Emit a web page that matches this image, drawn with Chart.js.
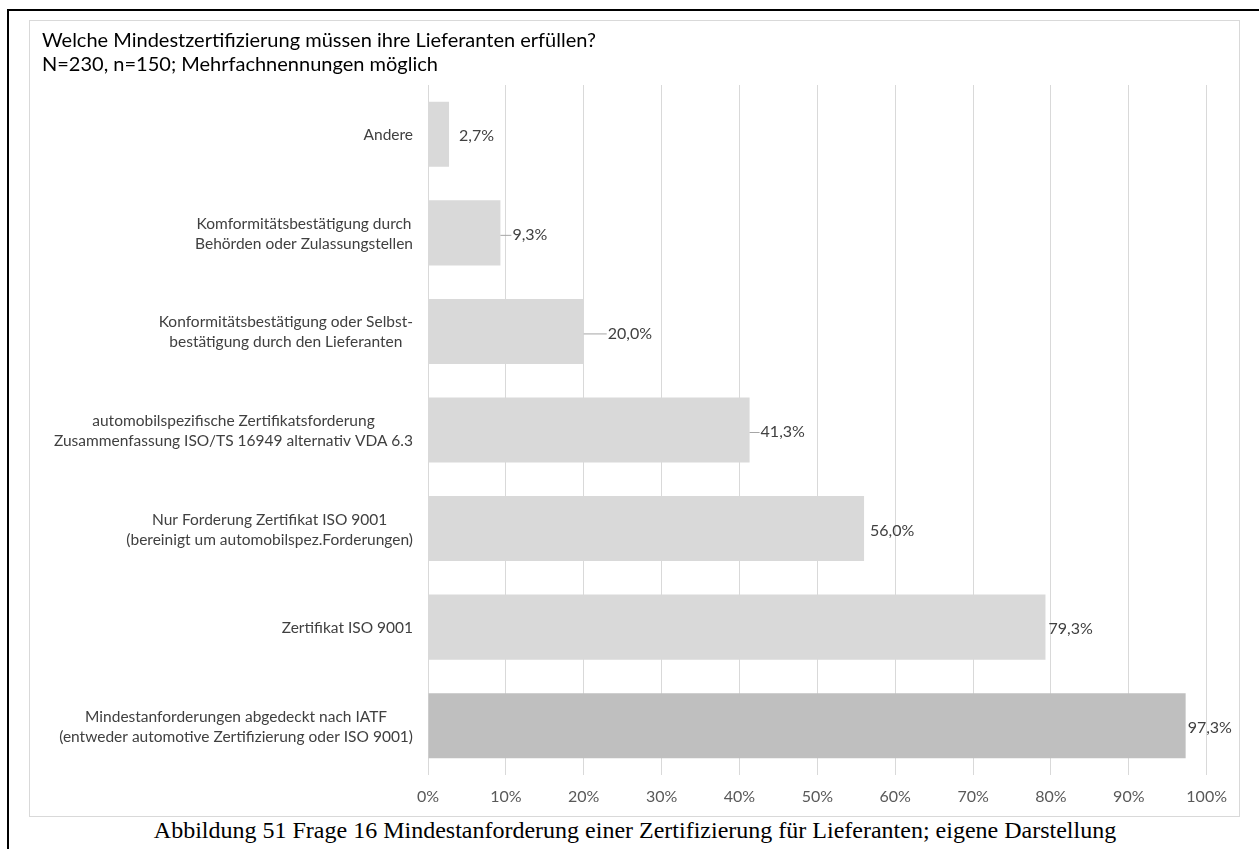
<!DOCTYPE html>
<html>
<head>
<meta charset="utf-8">
<script src="https://cdn.jsdelivr.net/npm/chart.js@4"></script>
<style>
    body { margin: 0; background: #fff; width: 1259px; height: 849px; overflow: hidden; position: relative; }
    #rahmen { position: absolute; left: 7px; top: 9px; width: 1300px; height: 900px; border-left: 2px solid #000; border-top: 2px solid #000; }
    #box { position: absolute; left: 29px; top: 20px; width: 1209px; height: 795px; border: 1px solid #d9d9d9; }
    #box canvas { display: block; }
    #caption { position: absolute; left: 0; width: 1270px; top: 818px; line-height: 24px; text-align: center; font-family: "Liberation Serif", "Times New Roman", serif; font-size: 24px; color: #000; }
</style>
</head>
<body>
<div id="rahmen"></div>
<div id="box"><canvas id="zertChart" width="1209" height="795"></canvas></div>
<div id="caption">Abbildung 51 Frage 16 Mindestanforderung einer Zertifizierung für Lieferanten; eigene Darstellung</div>
<script>
// Kategorien (jeweils Zeilen der Beschriftung)
const kategorien = [
    ["Andere"],
    ["Komformitätsbestätigung durch", "Behörden oder Zulassungstellen"],
    ["Konformitätsbestätigung oder Selbst-", "bestätigung durch den Lieferanten"],
    ["automobilspezifische Zertifikatsforderung", "Zusammenfassung ISO/TS 16949 alternativ VDA 6.3"],
    ["Nur Forderung Zertifikat ISO 9001", "(bereinigt um automobilspez.Forderungen)"],
    ["Zertifikat ISO 9001"],
    ["Mindestanforderungen abgedeckt nach IATF", "(entweder automotive Zertifizierung oder ISO 9001)"]
];
const anteile = [2.7, 9.3, 20.0, 41.3, 56.0, 79.3, 97.3];
const balkenFarben = ["#d9d9d9", "#d9d9d9", "#d9d9d9", "#d9d9d9", "#d9d9d9", "#d9d9d9", "#bfbfbf"];
const xTicks = [0, 10, 20, 30, 40, 50, 60, 70, 80, 90, 100];

// Abstand der Wertbeschriftung vom Balkenende, und ob eine Führungslinie gezeichnet wird
const labelAbstand = [10, 12, 24, 11, 6, 3, 2];
const fuehrungslinie = [false, true, true, true, false, false, false];

const schrift = "Lato, 'Open Sans', sans-serif";

const beschriftungPlugin = {
    id: "beschriftung",
    afterDatasetsDraw(chart) {
        const ctx = chart.ctx;
        const yScale = chart.scales.y;
        const meta = chart.getDatasetMeta(0);
        ctx.save();
        ctx.fillStyle = "#404040";
        ctx.textBaseline = "middle";

        // Kategorienbeschriftung: Block rechtsbündig, Zeilen zentriert
        ctx.font = "15.5px " + schrift;
        const rechts = chart.chartArea.left - 15;
        kategorien.forEach((zeilen, i) => {
            const y = yScale.getPixelForValue(i);
            const breite = Math.max(...zeilen.map(z => ctx.measureText(z).width));
            const mitte = rechts - breite / 2;
            const zeilenHoehe = 20;
            const start = y - (zeilen.length - 1) * zeilenHoehe / 2 + 1;
            ctx.textAlign = "center";
            zeilen.forEach((z, k) => ctx.fillText(z, mitte, start + k * zeilenHoehe));
        });

        // Werte
        ctx.font = "16px " + schrift;
        ctx.textAlign = "left";
        meta.data.forEach((bar, i) => {
            const x = bar.x;
            const y = bar.y + 2;
            if (fuehrungslinie[i]) {
                ctx.strokeStyle = "#a6a6a6";
                ctx.lineWidth = 1;
                ctx.beginPath();
                ctx.moveTo(x, y + 0.5);
                ctx.lineTo(x + labelAbstand[i] - 1, y + 0.5);
                ctx.stroke();
            }
            ctx.fillText(anteile[i].toFixed(1).replace(".", ",") + "%", x + labelAbstand[i], y);
        });
        ctx.restore();
    }
};

new Chart(document.getElementById("zertChart").getContext("2d"), {
    type: "bar",
    data: {
        labels: kategorien,
        datasets: [{
            data: anteile,
            backgroundColor: balkenFarben,
            categoryPercentage: 1,
            barPercentage: 0.66
        }]
    },
    options: {
        indexAxis: "y",
        responsive: false,
        animation: false,
        layout: { padding: { left: 12, right: 30, top: 0, bottom: 10 } },
        plugins: {
            legend: { display: false },
            tooltip: { enabled: false },
            title: {
                display: true,
                text: ["Welche Mindestzertifizierung müssen ihre Lieferanten erfüllen?", "N=230, n=150; Mehrfachnennungen möglich"],
                align: "start",
                color: "#000",
                font: { family: schrift, size: 20, weight: "normal", lineHeight: 1.2 },
                padding: { top: 8, bottom: 8 }
            }
        },
        scales: {
            x: {
                min: 0,
                max: 100,
                afterBuildTicks: (scale) => { scale.ticks = xTicks.map(v => ({ value: v })); },
                afterFit: (scale) => { scale.height = 31; },
                ticks: {
                    callback: (v) => v + "%",
                    color: "#595959",
                    font: { family: schrift, size: 16 },
                    padding: 12
                },
                grid: { color: "#d9d9d9", drawTicks: false },
                border: { display: false }
            },
            y: {
                ticks: { display: false },
                grid: { display: false },
                border: { display: false },
                afterFit: (scale) => { scale.width = 386; }
            }
        }
    },
    plugins: [beschriftungPlugin]
});
</script>
</body>
</html>
